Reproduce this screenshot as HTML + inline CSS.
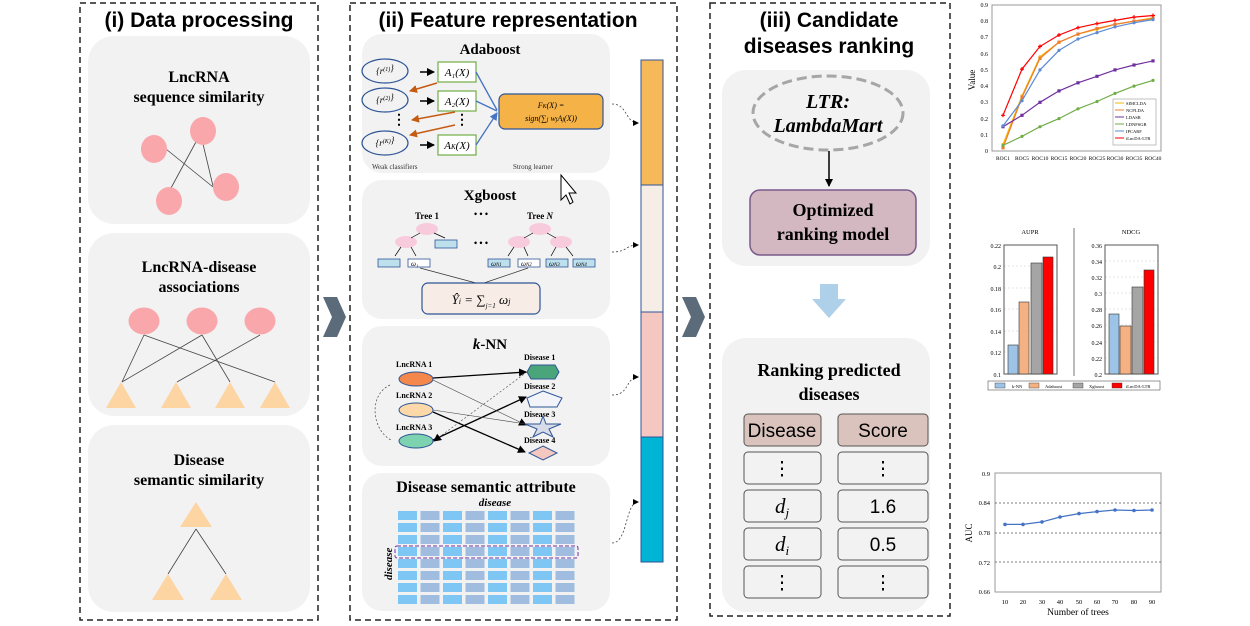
<!DOCTYPE html>
<html><head><meta charset="utf-8"><style>
html,body{margin:0;padding:0;background:#fff;}
svg{display:block;}
.t{font-family:"Liberation Sans",sans-serif;font-weight:bold;}
.s{font-family:"Liberation Serif",serif;font-weight:bold;}
.i{font-family:"Liberation Serif",serif;font-style:italic;}
.sm{font-family:"Liberation Serif",serif;font-size:7px;}
</style></head><body>
<svg width="1250" height="626" viewBox="0 0 1250 626" xmlns="http://www.w3.org/2000/svg">
<defs>
<marker id="ab" markerWidth="8" markerHeight="8" refX="7" refY="4" orient="auto" markerUnits="userSpaceOnUse"><path d="M0,0 L8,4 L0,8z" fill="#000"/></marker>
<marker id="ao" markerWidth="8" markerHeight="8" refX="7" refY="4" orient="auto" markerUnits="userSpaceOnUse"><path d="M0,0 L8,4 L0,8z" fill="#c55a11"/></marker>
<marker id="abl" markerWidth="8" markerHeight="8" refX="7" refY="4" orient="auto" markerUnits="userSpaceOnUse"><path d="M0,0 L8,4 L0,8z" fill="#4472c4"/></marker>
<marker id="m1" markerWidth="4" markerHeight="4" refX="2" refY="2" markerUnits="userSpaceOnUse"><circle cx="2" cy="2" r="1.6" fill="#f5b800"/></marker>
<marker id="m2" markerWidth="4" markerHeight="4" refX="2" refY="2" markerUnits="userSpaceOnUse"><rect x="0.4" y="0.4" width="3.2" height="3.2" fill="#ed7d31"/></marker>
<marker id="m3" markerWidth="4" markerHeight="4" refX="2" refY="2" markerUnits="userSpaceOnUse"><rect x="0.4" y="0.4" width="3.2" height="3.2" fill="#7030a0"/></marker>
<marker id="m4" markerWidth="4" markerHeight="4" refX="2" refY="2" markerUnits="userSpaceOnUse"><circle cx="2" cy="2" r="1.6" fill="#70ad47"/></marker>
<marker id="m5" markerWidth="4" markerHeight="4" refX="2" refY="2" markerUnits="userSpaceOnUse"><circle cx="2" cy="2" r="1.6" fill="#5b8bd5"/></marker>
<marker id="m6" markerWidth="4" markerHeight="4" refX="2" refY="2" markerUnits="userSpaceOnUse"><path d="M2,0 V4 M0,2 H4" stroke="#ff0000" stroke-width="1.2"/></marker>
</defs>
<!-- Panel i -->
<rect x="80" y="3" width="238" height="617" fill="none" stroke="#222" stroke-width="1.5" stroke-dasharray="6,4"/>
<text x="199" y="27" text-anchor="middle" class="t" font-size="21">(i) Data processing</text>
<rect x="88" y="36" width="222" height="188" rx="26" fill="#f2f2f2"/>
<rect x="88" y="233" width="222" height="183" rx="26" fill="#f2f2f2"/>
<rect x="88" y="425" width="222" height="187" rx="26" fill="#f2f2f2"/>
<text x="199" y="82" text-anchor="middle" class="s" font-size="16">LncRNA</text>
<text x="199" y="102" text-anchor="middle" class="s" font-size="16">sequence similarity</text>
<g stroke="#444" stroke-width="0.8"><line x1="166" y1="149" x2="213" y2="187"/><line x1="197" y1="140" x2="171" y2="188"/><line x1="203" y1="144" x2="213" y2="186"/></g>
<g fill="#f9a7ab"><ellipse cx="203" cy="131" rx="13" ry="14"/><ellipse cx="154" cy="149" rx="13" ry="14"/><ellipse cx="226" cy="187" rx="13" ry="14"/><ellipse cx="169" cy="201" rx="13" ry="14"/></g>
<text x="199" y="272" text-anchor="middle" class="s" font-size="16">LncRNA-disease</text>
<text x="199" y="292" text-anchor="middle" class="s" font-size="16">associations</text>
<g stroke="#444" stroke-width="0.8"><line x1="144" y1="335" x2="122" y2="382"/><line x1="144" y1="335" x2="275" y2="382"/><line x1="202" y1="335" x2="122" y2="382"/><line x1="202" y1="335" x2="230" y2="382"/><line x1="260" y1="335" x2="177" y2="382"/></g>
<g fill="#f9a7ab"><ellipse cx="144" cy="321" rx="15.5" ry="13.5"/><ellipse cx="202" cy="321" rx="15.5" ry="13.5"/><ellipse cx="260" cy="321" rx="15.5" ry="13.5"/></g>
<g fill="#fdd5a3"><path d="M121,382 L136,408 L106,408z"/><path d="M176,382 L191,408 L161,408z"/><path d="M230,382 L245,408 L215,408z"/><path d="M275,382 L290,408 L260,408z"/></g>
<text x="199" y="465" text-anchor="middle" class="s" font-size="16">Disease</text>
<text x="199" y="485" text-anchor="middle" class="s" font-size="16">semantic similarity</text>
<g stroke="#444" stroke-width="0.8"><line x1="196" y1="529" x2="168" y2="574"/><line x1="196" y1="529" x2="226" y2="574"/></g>
<g fill="#fdd5a3"><path d="M196,502 L212,527 L180,527z"/><path d="M168,574 L184,600 L152,600z"/><path d="M226,574 L242,600 L210,600z"/></g>
<!-- chevrons -->
<path d="M323,297 L337,297 L346,317 L337,337 L323,337 L332,317z" fill="#5c6b7a"/>
<path d="M682,297 L696,297 L705,317 L696,337 L682,337 L691,317z" fill="#5c6b7a"/>
<!-- Panel ii -->
<rect x="350" y="3" width="327" height="617" fill="none" stroke="#222" stroke-width="1.5" stroke-dasharray="6,4"/>
<text x="508" y="27" text-anchor="middle" class="t" font-size="21">(ii) Feature representation</text>
<rect x="362" y="34" width="248" height="139" rx="20" fill="#f2f2f2"/>
<rect x="362" y="180" width="248" height="139" rx="20" fill="#f2f2f2"/>
<rect x="362" y="326" width="248" height="140" rx="20" fill="#f2f2f2"/>
<rect x="362" y="473" width="248" height="138" rx="20" fill="#f2f2f2"/>
<!-- Adaboost -->
<text x="490" y="54" text-anchor="middle" class="s" font-size="15">Adaboost</text>
<g fill="none" stroke="#2f5597" stroke-width="1.2"><ellipse cx="385" cy="71" rx="23" ry="12"/><ellipse cx="385" cy="100" rx="23" ry="12"/><ellipse cx="385" cy="143" rx="23" ry="12"/></g>
<g class="i" font-size="9" text-anchor="middle"><text x="385" y="74">{r<tspan font-size="6" dy="-3">(1)</tspan>}</text><text x="385" y="103">{r<tspan font-size="6" dy="-3">(2)</tspan>}</text><text x="385" y="146">{r<tspan font-size="6" dy="-3">(K)</tspan>}</text></g>
<g stroke="#000" stroke-width="1.5" marker-end="url(#ab)"><line x1="420" y1="72" x2="434" y2="72"/><line x1="420" y1="101" x2="434" y2="101"/><line x1="420" y1="145" x2="434" y2="145"/></g>
<g fill="#fff" stroke="#70ad47" stroke-width="1.2"><rect x="438" y="62" width="38" height="20"/><rect x="438" y="91" width="38" height="20"/><rect x="438" y="135" width="38" height="20"/></g>
<g class="i" font-size="11" text-anchor="middle"><text x="457" y="76">A₁(X)</text><text x="457" y="105">A₂(X)</text><text x="457" y="149">A<tspan font-size="7">K</tspan>(X)</text></g>
<text x="392" y="124" font-size="14" class="s">⋮</text><text x="455" y="124" font-size="14" class="s">⋮</text>
<g stroke="#c55a11" stroke-width="1.5" marker-end="url(#ao)"><line x1="437" y1="83" x2="410" y2="91"/><line x1="455" y1="112" x2="412" y2="120"/><line x1="455" y1="125" x2="410" y2="135"/></g>
<g stroke="#4472c4" stroke-width="1.3"><line x1="476" y1="72" x2="497" y2="110"/><line x1="476" y1="101" x2="497" y2="111"/><line x1="476" y1="145" x2="497" y2="113" marker-end="url(#abl)"/></g>
<rect x="499" y="94" width="104" height="35" rx="6" fill="#f5b347" stroke="#2f5597" stroke-width="1.2"/>
<text x="551" y="108" text-anchor="middle" class="i" font-size="8">F<tspan font-size="6">K</tspan>(X) =</text>
<text x="551" y="121" text-anchor="middle" class="i" font-size="8">sign(∑<tspan font-size="6">j</tspan> w<tspan font-size="6">j</tspan>A<tspan font-size="6">j</tspan>(X))</text>
<text x="372" y="169" class="sm" font-size="8" fill="#333">Weak classifiers</text>
<text x="513" y="169" class="sm" font-size="8" fill="#333">Strong learner</text>
<!-- cursor -->
<path d="M561,175 L561,200 L566,195 L570,204 L573,202 L569,193 L576,193z" fill="#fff" stroke="#000" stroke-width="1"/>
<!-- Xgboost -->
<text x="490" y="200" text-anchor="middle" class="s" font-size="15">Xgboost</text>
<text x="427" y="219" text-anchor="middle" class="s" font-size="9">Tree 1</text>
<text x="481" y="217" text-anchor="middle" class="s" font-size="9">• • •</text>
<text x="540" y="219" text-anchor="middle" class="s" font-size="9">Tree <tspan font-style="italic">N</tspan></text>
<text x="481" y="246" text-anchor="middle" class="s" font-size="9">• • •</text>
<g fill="#f8cbdc"><ellipse cx="427" cy="229" rx="11" ry="6"/><ellipse cx="406" cy="242" rx="11" ry="6"/><ellipse cx="540" cy="229" rx="11" ry="6"/><ellipse cx="519" cy="242" rx="11" ry="6"/><ellipse cx="561" cy="242" rx="11" ry="6"/></g>
<g stroke="#000" stroke-width="0.7"><line x1="420" y1="233" x2="411" y2="238"/><line x1="434" y1="233" x2="445" y2="238"/><line x1="401" y1="247" x2="395" y2="256"/><line x1="411" y1="247" x2="416" y2="256"/><line x1="533" y1="233" x2="524" y2="238"/><line x1="547" y1="233" x2="556" y2="238"/><line x1="514" y1="247" x2="508" y2="256"/><line x1="524" y1="247" x2="528" y2="256"/><line x1="556" y1="247" x2="551" y2="256"/><line x1="566" y1="247" x2="573" y2="256"/></g>
<g fill="#bde0ec" stroke="#2f5597" stroke-width="0.8"><rect x="435" y="240" width="22" height="8"/><rect x="378" y="259" width="22" height="8"/><rect x="546" y="259" width="22" height="8"/><rect x="573" y="259" width="22" height="8"/><rect x="488" y="259" width="22" height="8"/></g>
<g fill="#fff" stroke="#2f5597" stroke-width="0.8"><rect x="408" y="259" width="22" height="8"/><rect x="518" y="259" width="22" height="8"/></g>
<g class="i" font-size="7"><text x="411" y="266">ω₁</text><text x="491" y="266">ω<tspan font-size="5">N1</tspan></text><text x="521" y="266">ω<tspan font-size="5">N2</tspan></text><text x="549" y="266">ω<tspan font-size="5">N3</tspan></text><text x="576" y="266">ω<tspan font-size="5">N4</tspan></text></g>
<g stroke="#333" stroke-width="0.7"><line x1="420" y1="268" x2="476" y2="283"/><line x1="528" y1="268" x2="484" y2="283"/></g>
<rect x="422" y="283" width="118" height="31" rx="6" fill="#f7ede6" stroke="#2f5597" stroke-width="1.2"/>
<text x="481" y="304" text-anchor="middle" class="i" font-size="13">Ŷ<tspan font-size="8">i</tspan> = ∑<tspan font-size="7" dy="4">j=1</tspan><tspan dy="-4"> ω</tspan><tspan font-size="8">j</tspan></text>
<!-- kNN -->
<text x="490" y="349" text-anchor="middle" class="s" font-size="15"><tspan font-style="italic">k</tspan>-NN</text>
<g class="s" font-size="8"><text x="396" y="367">LncRNA 1</text><text x="396" y="398">LncRNA 2</text><text x="396" y="430">LncRNA 3</text><text x="524" y="360">Disease 1</text><text x="524" y="389">Disease 2</text><text x="524" y="417">Disease 3</text><text x="524" y="443">Disease 4</text></g>
<path d="M390,385 C368,395 372,430 391,440" fill="none" stroke="#444" stroke-width="0.7" stroke-dasharray="2,2"/>
<g stroke="#000" stroke-width="1.3" marker-end="url(#ab)"><line x1="433" y1="378" x2="526" y2="372"/><line x1="433" y1="412" x2="525" y2="452"/><line x1="433" y1="440" x2="526" y2="397"/></g>
<g stroke="#444" stroke-width="0.6"><line x1="433" y1="380" x2="526" y2="425" marker-end="url(#ab)"/><line x1="433" y1="410" x2="526" y2="424"/><line x1="527" y1="372" x2="434" y2="441" stroke-dasharray="2,2" marker-end="url(#ab)"/></g>
<ellipse cx="416" cy="379" rx="17" ry="7" fill="#f4874b" stroke="#2f5597"/>
<ellipse cx="416" cy="410" rx="17" ry="7" fill="#fdd8a8" stroke="#2f5597"/>
<ellipse cx="416" cy="441" rx="17" ry="7" fill="#7dd3b0" stroke="#2f5597"/>
<path d="M531,365 L555,365 L559,372 L555,379 L531,379 L527,372z" fill="#4aa57a" stroke="#2f5597"/>
<path d="M543,391 L562,398 L557,407 L530,407 L527,398z" fill="#f2f4fa" stroke="#2f5597"/>
<path d="M543,416 L546,424 L561,424 L549,429 L553,437 L543,432 L533,437 L537,429 L525,424 L540,424z" fill="#d7dce8" stroke="#2f5597"/>
<path d="M543,446 L557,453 L543,460 L529,453z" fill="#f4c7c0" stroke="#2f5597"/>
<!-- Disease semantic attribute -->
<text x="486" y="492" text-anchor="middle" class="s" font-size="16">Disease semantic attribute</text>
<text x="495" y="506" text-anchor="middle" class="i" font-weight="bold" font-size="11">disease</text>
<text transform="translate(392,580) rotate(-90)" class="i" font-weight="bold" font-size="11">disease</text>
<g id="col">
<rect x="398" y="511" width="19" height="9" /><rect x="398" y="523" width="19" height="9"/><rect x="398" y="535" width="19" height="9"/><rect x="398" y="547" width="19" height="9"/><rect x="398" y="559" width="19" height="9"/><rect x="398" y="571" width="19" height="9"/><rect x="398" y="583" width="19" height="9"/><rect x="398" y="595" width="19" height="9"/>
</g>
<use href="#col" x="0" fill="#7ec6f4"/>
<g fill="#a0bde0"><use href="#col" x="22.5"/><use href="#col" x="67.5"/><use href="#col" x="112.5"/><use href="#col" x="157.5"/></g>
<g fill="#7ec6f4"><use href="#col" x="45"/><use href="#col" x="90"/><use href="#col" x="135"/></g>
<rect x="395" y="546" width="183" height="12" rx="2" fill="none" stroke="#7030a0" stroke-dasharray="4,2"/>
<!-- vector bar -->
<rect x="641" y="60" width="22" height="125" fill="#f5b95a" stroke="#2f5597"/>
<rect x="641" y="185" width="22" height="127" fill="#f6ede6" stroke="#2f5597"/>
<rect x="641" y="312" width="22" height="125" fill="#f4c7c0" stroke="#2f5597"/>
<rect x="641" y="437" width="22" height="125" fill="#00b4d6" stroke="#2f5597"/>
<g fill="none" stroke="#444" stroke-width="0.8" stroke-dasharray="2,2"><path d="M612,104 C628,104 625,123 638,123"/><path d="M612,252 C628,252 625,245 638,245"/><path d="M612,395 C630,395 625,378 638,377"/><path d="M612,543 C628,543 625,503 638,502"/></g>
<g fill="#000"><path d="M639,123 l-6,-3 v6z"/><path d="M639,245 l-6,-3 v6z"/><path d="M639,377 l-6,-3 v6z"/><path d="M639,502 l-6,-3 v6z"/></g>
<!-- Panel iii -->
<rect x="710" y="3" width="240" height="613" fill="none" stroke="#222" stroke-width="1.5" stroke-dasharray="6,4"/>
<text x="829" y="27" text-anchor="middle" class="t" font-size="21">(iii) Candidate</text>
<text x="829" y="53" text-anchor="middle" class="t" font-size="21">diseases ranking</text>
<rect x="722" y="70" width="208" height="196" rx="24" fill="#f2f2f2"/>
<ellipse cx="828" cy="113" rx="75" ry="37" fill="none" stroke="#a6a6a6" stroke-width="3" stroke-dasharray="10,5"/>
<text x="828" y="108" text-anchor="middle" class="i" font-weight="bold" font-size="20">LTR:</text>
<text x="828" y="132" text-anchor="middle" class="i" font-weight="bold" font-size="20">LambdaMart</text>
<line x1="829" y1="151" x2="829" y2="186" stroke="#000" stroke-width="1.5" marker-end="url(#ab)"/>
<rect x="750" y="190" width="166" height="65" rx="10" fill="#d3b8c1" stroke="#7b5b8b" stroke-width="1.5"/>
<text x="833" y="216" text-anchor="middle" class="s" font-size="18">Optimized</text>
<text x="833" y="240" text-anchor="middle" class="s" font-size="18">ranking model</text>
<path d="M820,284 L838,284 L838,299 L846,299 L829,318 L812,299 L820,299z" fill="#afd0e9"/>
<rect x="722" y="338" width="208" height="274" rx="24" fill="#f2f2f2"/>
<text x="829" y="376" text-anchor="middle" class="s" font-size="18">Ranking predicted</text>
<text x="829" y="400" text-anchor="middle" class="s" font-size="18">diseases</text>
<g stroke="#555" stroke-width="1">
<rect x="744" y="414" width="77" height="32" rx="4" fill="#d9c3bc"/><rect x="838" y="414" width="90" height="32" rx="4" fill="#d9c3bc"/>
<rect x="744" y="452" width="77" height="32" rx="4" fill="#f2f2f2"/><rect x="838" y="452" width="90" height="32" rx="4" fill="#f2f2f2"/>
<rect x="744" y="490" width="77" height="32" rx="4" fill="#f2f2f2"/><rect x="838" y="490" width="90" height="32" rx="4" fill="#f2f2f2"/>
<rect x="744" y="528" width="77" height="32" rx="4" fill="#f2f2f2"/><rect x="838" y="528" width="90" height="32" rx="4" fill="#f2f2f2"/>
<rect x="744" y="566" width="77" height="32" rx="4" fill="#f2f2f2"/><rect x="838" y="566" width="90" height="32" rx="4" fill="#f2f2f2"/>
</g>
<g font-family="Liberation Sans,sans-serif" font-size="19" text-anchor="middle">
<text x="782" y="437">Disease</text><text x="883" y="437">Score</text>
<text x="782" y="475">⋮</text><text x="883" y="475">⋮</text>
<text x="782" y="513" class="i" font-size="21">d<tspan font-size="13" dy="4">j</tspan></text><text x="883" y="513">1.6</text>
<text x="782" y="551" class="i" font-size="21">d<tspan font-size="13" dy="4">i</tspan></text><text x="883" y="551">0.5</text>
<text x="782" y="589">⋮</text><text x="883" y="589">⋮</text>
</g>
<!-- Chart 1 -->
<rect x="992" y="5" width="169" height="146" fill="none" stroke="#999"/>
<g font-family="Liberation Serif,serif" font-size="6" text-anchor="end">
<text x="988" y="153">0</text><text x="988" y="137">0.1</text><text x="988" y="121">0.2</text><text x="988" y="104">0.3</text><text x="988" y="88">0.4</text><text x="988" y="72">0.5</text><text x="988" y="56">0.6</text><text x="988" y="39">0.7</text><text x="988" y="23">0.8</text><text x="988" y="7">0.9</text></g>
<g font-family="Liberation Serif,serif" font-size="5.5" text-anchor="middle">
<text x="1003" y="160">ROC1</text><text x="1022" y="160">ROC5</text><text x="1040" y="160">ROC10</text><text x="1059" y="160">ROC15</text><text x="1078" y="160">ROC20</text><text x="1097" y="160">ROC25</text><text x="1115" y="160">ROC30</text><text x="1134" y="160">ROC35</text><text x="1153" y="160">ROC40</text></g>
<text transform="translate(975,80) rotate(-90)" font-family="Liberation Serif,serif" font-size="9" text-anchor="middle">Value</text>
<g fill="none" stroke-width="1.2">
<polyline stroke="#f5b800" marker-start="url(#m1)" marker-mid="url(#m1)" marker-end="url(#m1)" points="1003,144.5 1022,95.8 1040,56.8 1059,42.2 1078,34.1 1097,29.3 1115,24.4 1134,21.1 1153,17.9"/>
<polyline stroke="#ed7d31" marker-start="url(#m2)" marker-mid="url(#m2)" marker-end="url(#m2)" points="1003,147.8 1022,97.4 1040,58.4 1059,42.2 1078,34.1 1097,28.5 1115,24.4 1134,21.1 1153,18.7"/>
<polyline stroke="#7030a0" marker-start="url(#m3)" marker-mid="url(#m3)" marker-end="url(#m3)" points="1003,126.7 1022,115.3 1040,102.3 1059,90.9 1078,82.8 1097,76.3 1115,69.9 1134,65 1153,60.9"/>
<polyline stroke="#70ad47" marker-start="url(#m4)" marker-mid="url(#m4)" marker-end="url(#m4)" points="1003,145.3 1022,136.4 1040,126.7 1059,118.6 1078,108.8 1097,101.5 1115,93.4 1134,86.1 1153,80.4"/>
<polyline stroke="#5b8bd5" marker-start="url(#m5)" marker-mid="url(#m5)" marker-end="url(#m5)" points="1003,125.9 1022,100.7 1040,69.9 1059,50.4 1078,39 1097,32.6 1115,26.9 1134,22.8 1153,19.6"/>
<polyline stroke="#ff0000" marker-start="url(#m6)" marker-mid="url(#m6)" marker-end="url(#m6)" points="1003,115.3 1022,69.1 1040,46.4 1059,35 1078,27.7 1097,23.6 1115,20.4 1134,17.1 1153,15.5"/>
</g>
<rect x="1113" y="99" width="43" height="46" fill="#fff" stroke="#999" stroke-width="0.6"/>
<g font-family="Liberation Serif,serif" font-size="4.5">
<line x1="1115" y1="103" x2="1124" y2="103" stroke="#f5b800"/><text x="1126" y="105">SIMCLDA</text>
<line x1="1115" y1="110" x2="1124" y2="110" stroke="#ed7d31"/><text x="1126" y="112">NCPLDA</text>
<line x1="1115" y1="117" x2="1124" y2="117" stroke="#7030a0"/><text x="1126" y="119">LDASR</text>
<line x1="1115" y1="124" x2="1124" y2="124" stroke="#70ad47"/><text x="1126" y="126">LDNFSGB</text>
<line x1="1115" y1="131" x2="1124" y2="131" stroke="#5b8bd5"/><text x="1126" y="133">IPCARF</text>
<line x1="1115" y1="138" x2="1124" y2="138" stroke="#ff0000"/><text x="1126" y="140">iLncDA-LTR</text></g>
<!-- Chart 2 -->
<g font-family="Liberation Serif,serif" font-size="6.5" text-anchor="middle"><text x="1030" y="234">AUPR</text><text x="1131" y="234">NDCG</text></g>
<line x1="1074" y1="228" x2="1074" y2="376" stroke="#555" stroke-width="0.8"/>
<g stroke="#ccc" stroke-width="0.5" stroke-dasharray="2,2"><line x1="1004" y1="266" x2="1057" y2="266"/><line x1="1004" y1="288" x2="1057" y2="288"/><line x1="1004" y1="309" x2="1057" y2="309"/><line x1="1004" y1="331" x2="1057" y2="331"/><line x1="1004" y1="352" x2="1057" y2="352"/><line x1="1105" y1="261" x2="1158" y2="261"/><line x1="1105" y1="277" x2="1158" y2="277"/><line x1="1105" y1="293" x2="1158" y2="293"/><line x1="1105" y1="309" x2="1158" y2="309"/><line x1="1105" y1="325" x2="1158" y2="325"/><line x1="1105" y1="342" x2="1158" y2="342"/><line x1="1105" y1="358" x2="1158" y2="358"/></g>
<rect x="1004" y="245" width="53" height="129" fill="none" stroke="#555"/>
<rect x="1105" y="245" width="53" height="129" fill="none" stroke="#555"/>
<g font-family="Liberation Serif,serif" font-size="6" text-anchor="end">
<text x="1001" y="248">0.22</text><text x="1001" y="269">0.2</text><text x="1001" y="291">0.18</text><text x="1001" y="312">0.16</text><text x="1001" y="334">0.14</text><text x="1001" y="355">0.12</text><text x="1001" y="377">0.1</text>
<text x="1102" y="248">0.36</text><text x="1102" y="264">0.34</text><text x="1102" y="280">0.32</text><text x="1102" y="296">0.3</text><text x="1102" y="312">0.28</text><text x="1102" y="328">0.26</text><text x="1102" y="345">0.24</text><text x="1102" y="361">0.22</text><text x="1102" y="377">0.2</text></g>
<g stroke="#333" stroke-width="0.6">
<rect x="1008" y="345" width="10" height="29" fill="#9dc3e6"/><rect x="1019" y="302" width="10" height="72" fill="#f4b183"/><rect x="1031" y="263" width="11" height="111" fill="#a5a5a5"/><rect x="1043" y="257" width="10" height="117" fill="#ff0000"/>
<rect x="1109" y="314" width="10" height="60" fill="#9dc3e6"/><rect x="1120" y="326" width="11" height="48" fill="#f4b183"/><rect x="1132" y="287" width="11" height="87" fill="#a5a5a5"/><rect x="1144" y="270" width="10" height="104" fill="#ff0000"/></g>
<rect x="988" y="381" width="172" height="9" fill="#fff" stroke="#555" stroke-width="0.6"/>
<g font-family="Liberation Serif,serif" font-size="4.5">
<rect x="995" y="383" width="10" height="5" fill="#9dc3e6" stroke="#333" stroke-width="0.4"/><text x="1012" y="388">k-NN</text>
<rect x="1029" y="383" width="10" height="5" fill="#f4b183" stroke="#333" stroke-width="0.4"/><text x="1045" y="388">Adaboost</text>
<rect x="1073" y="383" width="10" height="5" fill="#a5a5a5" stroke="#333" stroke-width="0.4"/><text x="1089" y="388">Xgboost</text>
<rect x="1112" y="383" width="10" height="5" fill="#ff0000" stroke="#333" stroke-width="0.4"/><text x="1126" y="388">iLncDA-LTR</text></g>
<!-- Chart 3 -->
<rect x="995" y="473" width="166" height="119" fill="none" stroke="#999"/>
<g stroke="#555" stroke-width="0.7" stroke-dasharray="2,2"><line x1="995" y1="503" x2="1161" y2="503"/><line x1="995" y1="533" x2="1161" y2="533"/><line x1="995" y1="562" x2="1161" y2="562"/></g>
<g font-family="Liberation Serif,serif" font-size="6.5" text-anchor="end">
<text x="990" y="476">0.9</text><text x="990" y="505">0.84</text><text x="990" y="535">0.78</text><text x="990" y="565">0.72</text><text x="990" y="594">0.66</text></g>
<g font-family="Liberation Serif,serif" font-size="6.5" text-anchor="middle">
<text x="1005" y="604">10</text><text x="1023" y="604">20</text><text x="1042" y="604">30</text><text x="1060" y="604">40</text><text x="1079" y="604">50</text><text x="1097" y="604">60</text><text x="1115" y="604">70</text><text x="1134" y="604">80</text><text x="1152" y="604">90</text></g>
<text x="1078" y="615" font-family="Liberation Serif,serif" font-size="9.5" text-anchor="middle">Number of trees</text>
<text transform="translate(972,533) rotate(-90)" font-family="Liberation Serif,serif" font-size="9" text-anchor="middle">AUC</text>
<polyline fill="none" stroke="#4472c4" stroke-width="1.2" points="1005,524.4 1023,524.4 1042,521.9 1060,517 1079,513.6 1097,511.6 1115,510 1134,510.5 1152,510"/>
<g fill="#4472c4"><circle cx="1005" cy="524.4" r="1.8"/><circle cx="1023" cy="524.4" r="1.8"/><circle cx="1042" cy="521.9" r="1.8"/><circle cx="1060" cy="517" r="1.8"/><circle cx="1079" cy="513.6" r="1.8"/><circle cx="1097" cy="511.6" r="1.8"/><circle cx="1115" cy="510" r="1.8"/><circle cx="1134" cy="510.5" r="1.8"/><circle cx="1152" cy="510" r="1.8"/></g>
</svg>
</body></html>
